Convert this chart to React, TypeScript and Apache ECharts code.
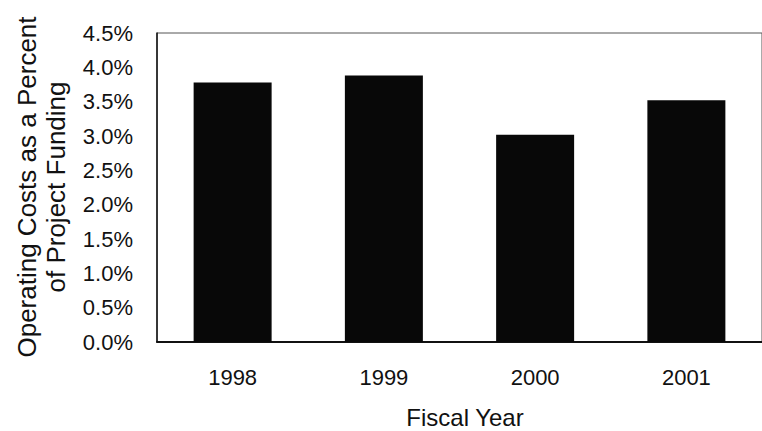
import React, { useEffect, useRef } from "react";
import * as echarts from "echarts";

const fiscalYears = ["1998", "1999", "2000", "2001"];
const operatingCostPct = [3.78, 3.88, 3.02, 3.52];
const yTicks = { min: 0, max: 4.5, interval: 0.5 };
const yTitle = "Operating Costs as a Percent\nof Project Funding";
const xTitle = "Fiscal Year";

export default function App() {
  const ref = useRef<HTMLDivElement>(null);
  useEffect(() => {
    if (!ref.current) return;
    const chart = echarts.init(ref.current, undefined, { renderer: "svg" });
    const font = "'Liberation Sans', Arial, sans-serif";
    chart.setOption({
      animation: false,
      backgroundColor: "#ffffff",
      grid: {
        left: 157,
        top: 33,
        width: 617,
        height: 309,
        show: true,
        borderColor: "#555",
        borderWidth: 1,
        backgroundColor: "transparent",
      },
      xAxis: {
        type: "category",
        data: fiscalYears,
        axisLine: { show: true, lineStyle: { color: "#111", width: 2 } },
        axisTick: { show: false },
        axisLabel: { color: "#111", fontFamily: font, fontSize: 22, margin: 24 },
        splitLine: { show: false },
      },
      yAxis: {
        type: "value",
        min: yTicks.min,
        max: yTicks.max,
        interval: yTicks.interval,
        axisLine: { show: true, lineStyle: { color: "#111", width: 1.5 } },
        axisTick: { show: false },
        splitLine: { show: false },
        axisLabel: {
          color: "#111",
          fontFamily: font,
          fontSize: 22,
          margin: 24,
          formatter: (v: number) => v.toFixed(1) + "%",
        },
      },
      series: [
        {
          type: "bar",
          data: operatingCostPct,
          barWidth: 78,
          itemStyle: { color: "#080808" },
        },
      ],
      graphic: [
        {
          type: "text",
          x: 41,
          y: 187,
          rotation: Math.PI / 2,
          style: {
            text: yTitle,
            fontFamily: font,
            fontSize: 26,
            lineHeight: 29,
            fill: "#111",
            align: "center",
            verticalAlign: "middle",
          },
        },
        {
          type: "text",
          x: 465,
          y: 417,
          style: {
            text: xTitle,
            fontFamily: font,
            fontSize: 24,
            fill: "#111",
            align: "center",
            verticalAlign: "middle",
          },
        },
      ],
    });
    return () => chart.dispose();
  }, []);
  return (
    <div
      ref={ref}
      style={{ position: "fixed", left: 0, top: 0, width: 762, height: 431, background: "#fff" }}
    />
  );
}
